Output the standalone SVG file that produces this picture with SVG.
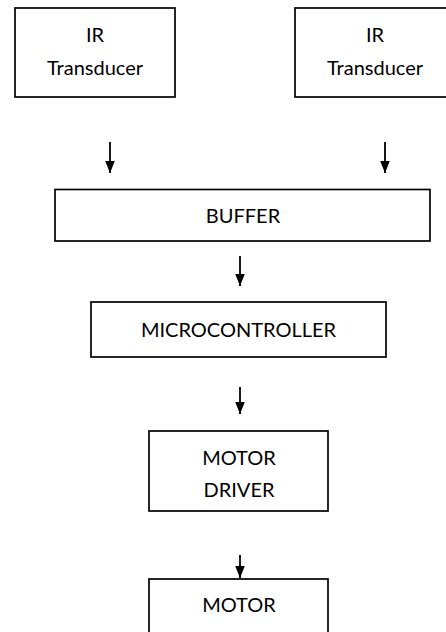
<svg xmlns="http://www.w3.org/2000/svg" width="446" height="632" viewBox="0 0 446 632">
  <style>
    .box { fill: #ffffff; stroke: #000000; stroke-width: 1.7; }
    .lbl { font-family: Lato, "Open Sans", "Liberation Sans", sans-serif; font-size: 20px; fill: #000000; text-anchor: middle; }
    .wire { stroke: #000000; stroke-width: 1.8; fill: none; marker-end: url(#head); }
  </style>
  <defs>
    <!-- solid triangular arrowhead, tip at the end of the line -->
    <marker id="head" markerUnits="userSpaceOnUse" markerWidth="12" markerHeight="15" refX="15" refY="6" orient="auto" viewBox="0 0 15 12">
      <path d="M0,0 L15,6 L0,12 Z" fill="#000000"/>
    </marker>
  </defs>
  <rect width="446" height="632" fill="#ffffff"/>

  <g id="ir-left">
    <rect class="box" x="15" y="8" width="160" height="89"/>
    <text class="lbl" x="95" y="41.5">IR</text>
    <text class="lbl" x="95" y="75">Transducer</text>
  </g>

  <g id="ir-right">
    <rect class="box" x="295" y="8" width="160" height="89"/>
    <text class="lbl" x="375" y="41.5">IR</text>
    <text class="lbl" x="375" y="75">Transducer</text>
  </g>

  <g id="buffer">
    <rect class="box" x="55" y="189.5" width="375" height="51.5"/>
    <text class="lbl" x="243" y="222.5">BUFFER</text>
  </g>

  <g id="microcontroller">
    <rect class="box" x="91" y="302" width="295" height="55"/>
    <text class="lbl" x="238.5" y="336.5">MICROCONTROLLER</text>
  </g>

  <g id="motor-driver">
    <rect class="box" x="149" y="431" width="179" height="80"/>
    <text class="lbl" x="239" y="465">MOTOR</text>
    <text class="lbl" x="239" y="497">DRIVER</text>
  </g>

  <g id="motor">
    <rect class="box" x="149" y="579" width="179" height="70"/>
    <text class="lbl" x="239" y="612">MOTOR</text>
  </g>

  <g id="connectors">
    <line class="wire" x1="110" y1="142" x2="110" y2="173"/>
    <line class="wire" x1="385" y1="142" x2="385" y2="173"/>
    <line class="wire" x1="240" y1="256" x2="240" y2="286"/>
    <line class="wire" x1="240" y1="387" x2="240" y2="414"/>
    <line class="wire" x1="240" y1="555" x2="240" y2="578"/>
  </g>
</svg>
